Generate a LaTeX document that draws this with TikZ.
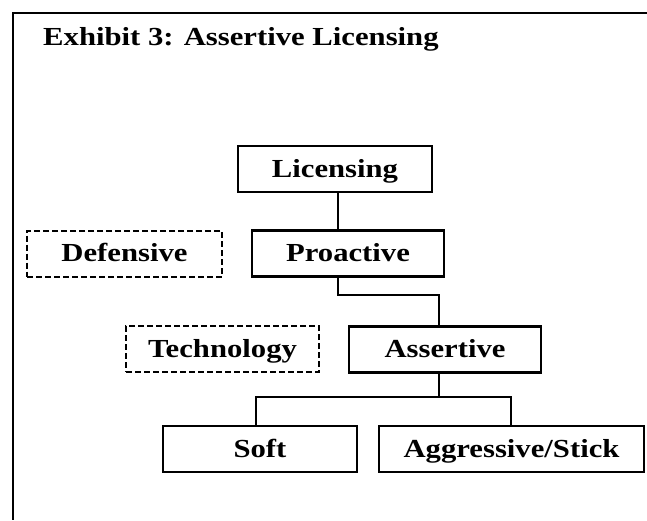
\documentclass[tikz,border=0pt]{standalone}
\usepackage{fontspec}
\setmainfont{Liberation Serif}[FakeStretch=1.18]
\begin{document}
\begin{tikzpicture}[x=1pt,y=-1pt,
  every node/.style={font=\fontsize{26}{30}\selectfont\bfseries, inner sep=0pt, align=center},
  boxtext/.style={text height=18pt, text depth=2pt},
  solidbox/.style={boxtext, draw, line width=2.4pt, minimum height=46pt},
  dashbox/.style={boxtext, draw, line width=2pt, dash pattern=on 6pt off 3pt, minimum height=46pt},
  conn/.style={line width=2.2pt}]
\useasboundingbox (0,0) rectangle (647,520);
% frame
\draw[line width=2.4pt] (647,13) -- (13,13) -- (13,520);
% title
\node[anchor=base west] (title) at (43,45) {Exhibit 3: Assertive Licensing};
% boxes
\node[solidbox, minimum width=194pt] (lic) at (335,169) {Licensing};
\node[dashbox, minimum width=195pt] (def) at (124.5,253.5) {Defensive};
\node[solidbox, minimum width=192pt] (pro) at (348,253.5) {Proactive};
\node[dashbox, minimum width=193pt] (tec) at (222.5,349) {Technology};
\node[solidbox, minimum width=192pt] (ass) at (445,349.5) {Assertive};
\node[solidbox, minimum width=194pt] (sof) at (260,449) {Soft};
\node[solidbox, minimum width=265pt] (agg) at (511.5,449) {Aggressive/Stick};
% junction coordinates
\coordinate (j1) at (338,0);
\coordinate (k1) at (338,295);
\coordinate (k2) at (439,295);
\coordinate (b0) at (439,397);
\coordinate (bl) at (256,397);
\coordinate (br) at (511,397);
% connectors
\draw[conn] (lic.south -| j1) -- (pro.north -| j1);
\draw[conn] (pro.south -| k1) -- (k1) -- (k2) -- (ass.north -| k2);
\draw[conn] (ass.south -| b0) -- (b0);
\draw[conn] (sof.north -| bl) -- (bl) -- (br) -- (agg.north -| br);
\end{tikzpicture}
\end{document}
